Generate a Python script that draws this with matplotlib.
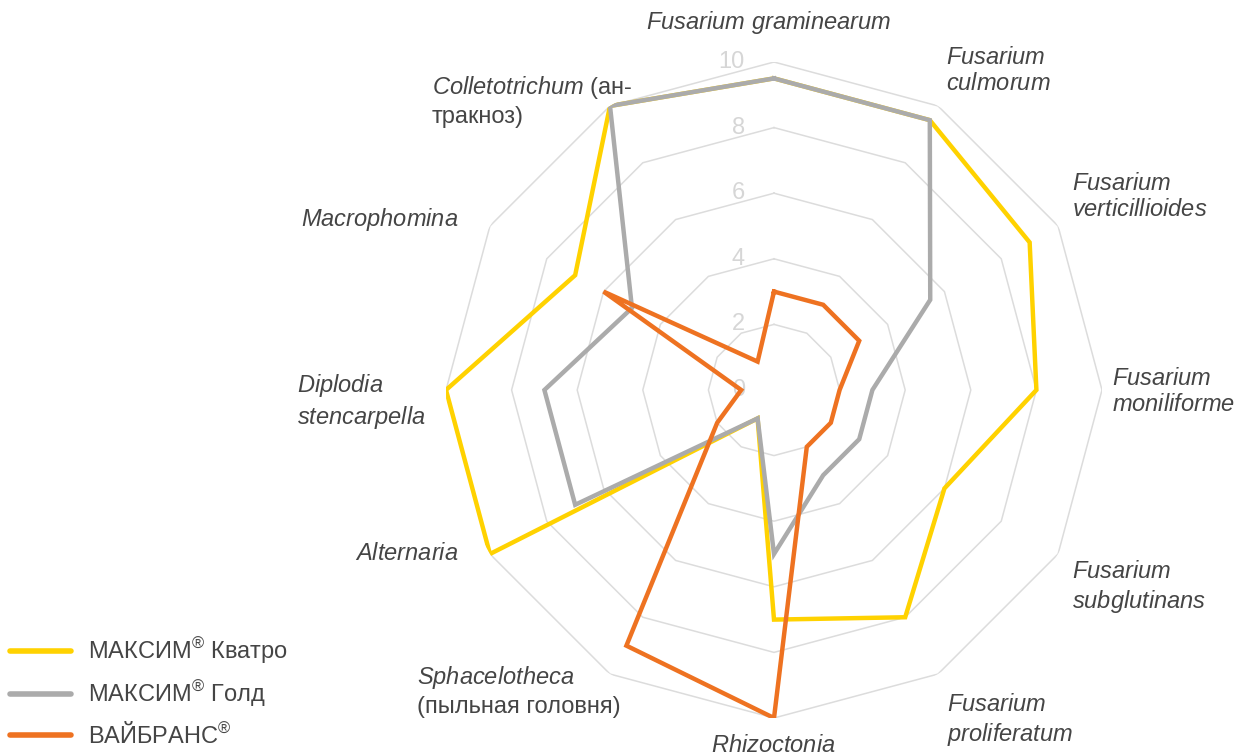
import numpy as np
import matplotlib
matplotlib.use("Agg")
import matplotlib.pyplot as plt
from matplotlib.lines import Line2D

plt.rcParams["font.family"] = ["Liberation Sans", "DejaVu Sans"]
plt.rcParams["mathtext.fontset"] = "custom"
plt.rcParams["mathtext.rm"] = "Liberation Sans"
plt.rcParams["mathtext.it"] = "Liberation Sans:italic"

W, H = 1243, 756

categories = [
    "Fusarium graminearum", "Fusarium culmorum", "Fusarium verticillioides",
    "Fusarium moniliforme", "Fusarium subglutinans", "Fusarium proliferatum",
    "Rhizoctonia", "Sphacelotheca", "Alternaria", "Diplodia stencarpella",
    "Macrophomina", "Colletotrichum",
]
maxim_kvatro = [9.5, 9.5, 9, 8, 6, 8, 7, 1, 10, 10, 7, 10]
maxim_gold = [9.5, 9.5, 5.5, 3, 3, 3, 5, 1, 7, 7, 5, 10]
vibrance = [3, 3, 3, 2, 2, 2, 10, 9, 2, 1, 6, 1]
series_names = [r"МАКСИМ$^{®}$ Кватро", r"МАКСИМ$^{®}$ Голд", r"ВАЙБРАНС$^{®}$"]
series_colors = ["#FFD200", "#ABABAB", "#EE7221"]
ring_values = [2, 4, 6, 8, 10]
tick_values = [0, 2, 4, 6, 8, 10]

# label text, pixel position (x, y from top), horizontal alignment
labels = [
    (r"$\mathit{Fusarium\ graminearum}$", 769, 22, "center"),
    (r"$\mathit{Fusarium}$" + "\n" + r"$\mathit{culmorum}$", 946, 71, "left"),
    (r"$\mathit{Fusarium}$" + "\n" + r"$\mathit{verticillioides}$", 1072, 197, "left"),
    (r"$\mathit{Fusarium}$" + "\n" + r"$\mathit{moniliforme}$", 1112, 392, "left"),
    (r"$\mathit{Fusarium}$" + "\n" + r"$\mathit{subglutinans}$", 1072, 588, "left"),
    (r"$\mathit{Fusarium}$" + "\n" + r"$\mathit{proliferatum}$", 947, 721, "left"),
    (r"$\mathit{Rhizoctonia}$", 773, 746, "center"),
    (r"$\mathit{Sphacelotheca}$" + "\n(пыльная головня)", 417, 691, "left"),
    (r"$\mathit{Alternaria}$", 355, 554, "left"),
    (r"$\mathit{Diplodia}$" + "\n" + r"$\mathit{stencarpella}$", 297, 401, "left"),
    (r"$\mathit{Macrophomina}$", 301, 219, "left"),
    (r"$\mathit{Colletotrichum}$ (ан-" + "\nтракноз)", 432, 101, "left"),
]

n = len(categories)
angles = np.arange(n) * 2 * np.pi / n
closed = np.append(angles, angles[0])

fig = plt.figure(figsize=(W / 100, H / 100), dpi=100)
cx, cy, R = 774, 390, 328
ax = fig.add_axes([(cx - R) / W, (H - cy - R) / H, 2 * R / W, 2 * R / H], projection="polar")
ax.set_theta_zero_location("N")
ax.set_theta_direction(-1)
ax.set_ylim(0, 10)
ax.grid(False)
ax.spines["polar"].set_visible(False)
ax.set_xticks([])
ax.set_yticks([])
ax.patch.set_alpha(0)

for rv in ring_values:
    ax.plot(closed, [rv] * (n + 1), color="#DCDCDC", lw=1.1, zorder=1)

for tv in tick_values:
    ax.annotate(str(tv), xy=(0, tv), xytext=(-21, 0), textcoords="offset points",
                ha="right", va="center", fontsize=17, color="#D6D6D6", zorder=2)

for vals, color in zip([maxim_kvatro, maxim_gold, vibrance], series_colors):
    ax.plot(closed, vals + vals[:1], color=color, lw=3.2, zorder=3,
            solid_joinstyle="miter")

for text, x, y, ha in labels:
    fig.text(x / W, 1 - y / H, text, ha=ha, va="center", multialignment="left",
             fontsize=17, color="#454545", linespacing=1.25)

handles = [Line2D([], [], color=c, lw=4, solid_capstyle="round") for c in series_colors]
fig.legend(handles, series_names, loc="lower left", bbox_to_anchor=(10 / W, 8 / H),
           frameon=False, fontsize=17, handlelength=2.6, handletextpad=0.7,
           labelspacing=0.55, borderpad=0, borderaxespad=0, labelcolor="#454545")

fig.savefig("out.png", dpi=100)
